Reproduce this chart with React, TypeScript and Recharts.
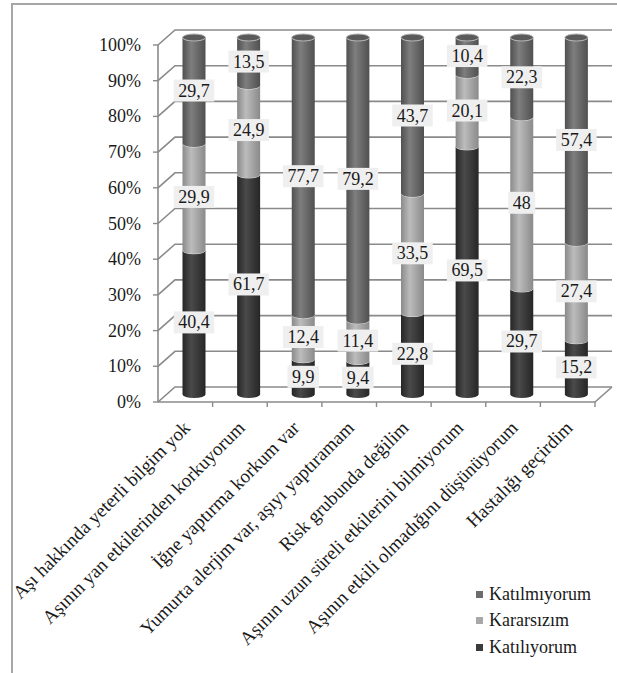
import React from 'react'
import { BarChart, Bar, XAxis, YAxis, CartesianGrid, LabelList, Legend } from 'recharts'

const categories = [
  'Aşı hakkında yeterli bilgim yok',
  'Aşının yan etkilerinden korkuyorum',
  'İğne yaptırma korkum var',
  'Yumurta alerjim var, aşıyı yaptıramam',
  'Risk grubunda değilim',
  'Aşının uzun süreli etkilerini bilmiyorum',
  'Aşının etkili olmadığını düşünüyorum',
  'Hastalığı geçirdim',
]
const katiliyorum = [40.4, 61.7, 9.9, 9.4, 22.8, 69.5, 29.7, 15.2]
const kararsizim = [29.9, 24.9, 12.4, 11.4, 33.5, 20.1, 48, 27.4]
const katilmiyorum = [29.7, 13.5, 77.7, 79.2, 43.7, 10.4, 22.3, 57.4]
const yTicks = [0, 10, 20, 30, 40, 50, 60, 70, 80, 90, 100]

const seriesNames = ['Katılıyorum', 'Kararsızım', 'Katılmıyorum']

const chartData = categories.map((name, i) => ({
  name,
  katiliyorum: katiliyorum[i],
  kararsizim: kararsizim[i],
  katilmiyorum: katilmiyorum[i],
}))

const W = 617
const H = 673
// half of the 3d depth: bars sit in the middle between the front axis and the back wall
const DX = 8.5
const DY = 7.5
const RY = 3.5
const MARGIN = { top: 37.5, right: 13.5, bottom: 78.5, left: 106.5 }
const Y_AXIS_W = 60
const X_AXIS_H = 200
const PLOT_BOTTOM = H - MARGIN.bottom - X_AXIS_H
const FONT = 'Liberation Serif, Times New Roman, Times, DejaVu Serif, serif'
const GRID = '#8a8a8a'

const styles = [
  { id: 'g-katiliyorum', edge: '#262626', mid: '#4a4a4a', cap: '#2e2e2e', legend: '#3b3b3b' },
  { id: 'g-kararsizim', edge: '#8a8a8a', mid: '#bcbcbc', cap: '#9a9a9a', legend: '#a8a8a8' },
  { id: 'g-katilmiyorum', edge: '#505050', mid: '#7e7e7e', cap: '#5a5a5a', legend: '#6c6c6c' },
]

const gridLine = (p: any) => {
  const { x1, y1, x2, key, y, height, width } = p
  const fx = x1 - DX
  const fy = y1 + DY
  const isBottom = Math.abs(y1 - (y + height)) < 1
  const band = width / categories.length
  return (
    <g key={key}>
      <path
        d={`M${fx},${fy} L${x1 + DX},${y1 - DY} L${x2 + DX},${y1 - DY}`}
        stroke={GRID}
        strokeWidth={1.6}
        fill="none"
      />
      <line x1={fx - 5} y1={fy} x2={fx} y2={fy} stroke={GRID} strokeWidth={1.4} />
      {isBottom && (
        <g>
          <path
            d={`M${fx},${fy} L${x2 - DX},${fy} L${x2 + DX},${y1 - DY}`}
            stroke={GRID}
            strokeWidth={1.6}
            fill="none"
          />
          <line x1={fx} y1={fy} x2={fx} y2={y + DY} stroke={GRID} strokeWidth={1.6} />
          {categories.map((_, i) => (
            <line
              key={i}
              x1={fx + band * (i + 1)}
              y1={fy}
              x2={fx + band * (i + 1)}
              y2={fy + 5}
              stroke={GRID}
              strokeWidth={1.4}
            />
          ))}
        </g>
      )}
    </g>
  )
}

const YTick = (p: any) => {
  const { y, payload } = p
  const left = MARGIN.left + Y_AXIS_W - DX
  return (
    <text x={left - 17} y={y + DY + 6} textAnchor="end" fontSize={18} style={{ fontFamily: FONT }} fill="#1a1a1a">
      {Math.round(payload.value * 100)}%
    </text>
  )
}

const XTick = (p: any) => {
  const { x, payload } = p
  const px = x - DX + 6
  const py = PLOT_BOTTOM + DY + 27
  return (
    <text
      x={px}
      y={py}
      transform={`rotate(-45 ${px} ${py})`}
      textAnchor="end"
      fontSize={19}
      style={{ fontFamily: FONT }}
      fill="#1a1a1a"
    >
      {payload.value}
    </text>
  )
}

const cylinder = (s: number, isTop: boolean) => (p: any) => {
  const { x, y, width, height } = p
  if (!height || height <= 0) return <g />
  const rx = width / 2
  const st = styles[s]
  const body = `M${x},${y} A${rx},${RY} 0 0 0 ${x + width},${y} L${x + width},${y + height} A${rx},${RY} 0 0 1 ${x},${y + height} Z`
  return (
    <g>
      <path d={body} fill={`url(#${st.id})`} />
      {isTop ? (
        <ellipse cx={x + rx} cy={y} rx={rx} ry={RY} fill={st.cap} stroke="#b5b5b5" strokeWidth={1} />
      ) : (
        <path d={`M${x},${y} A${rx},${RY} 0 0 0 ${x + width},${y}`} stroke="#e2e2e2" strokeWidth={1} fill="none" />
      )}
    </g>
  )
}

const boxLabel = (values: number[]) => (p: any) => {
  const { x, y, width, height, index } = p
  const v = values[index]
  if (v == null) return null
  const text = String(v).replace('.', ',')
  const digits = text.replace(',', '').length
  const tw = digits * 9 + (text.includes(',') ? 4.5 : 0)
  const bw = tw + 9
  const cx = x + width / 2
  const cy = y + height / 2
  return (
    <g key={`lbl-${index}`}>
      <rect x={cx - bw / 2} y={cy - 11} width={bw} height={22} fill="#efefef" />
      <text x={cx} y={cy + 6} textAnchor="middle" fontSize={18} style={{ fontFamily: FONT }} fill="#1a1a1a">
        {text}
      </text>
    </g>
  )
}

const legendContent = () => (
  <div style={{ fontFamily: FONT, fontSize: 18, color: '#1a1a1a' }}>
    {[2, 1, 0].map((s) => (
      <div key={s} style={{ display: 'flex', alignItems: 'center', height: 26.5 }}>
        <span style={{ width: 7, height: 7, background: styles[s].legend, marginRight: 6, display: 'inline-block' }} />
        <span>{seriesNames[s]}</span>
      </div>
    ))}
  </div>
)

export default function App() {
  return (
    <div style={{ position: 'absolute', left: 0, top: 0, width: W, height: H, background: '#fff' }}>
      <div
        style={{
          position: 'absolute',
          left: 11,
          top: 3,
          width: W,
          height: H,
          borderLeft: '2px solid #a6a6a6',
          borderTop: '2px solid #a6a6a6',
        }}
      />
      <BarChart
        width={W}
        height={H}
        data={chartData}
        margin={MARGIN}
        stackOffset="expand"
        barSize={23}
        style={{ position: 'absolute', left: 0, top: 0 }}
      >
        <defs>
          {styles.map((st) => (
            <linearGradient key={st.id} id={st.id} x1="0" y1="0" x2="1" y2="0">
              <stop offset="0%" stopColor={st.edge} />
              <stop offset="38%" stopColor={st.mid} />
              <stop offset="100%" stopColor={st.edge} />
            </linearGradient>
          ))}
        </defs>
        <CartesianGrid vertical={false} horizontal={gridLine} />
        <XAxis
          dataKey="name"
          interval={0}
          height={X_AXIS_H}
          axisLine={false}
          tickLine={false}
          tick={XTick}
        />
        <YAxis
          width={Y_AXIS_W}
          domain={[0, 1]}
          ticks={yTicks.map((t) => t / 100)}
          axisLine={false}
          tickLine={false}
          tick={YTick}
        />
        <Legend
          layout="vertical"
          align="center"
          verticalAlign="middle"
          wrapperStyle={{ left: 476, top: 581, width: 140 }}
          content={legendContent}
        />
        <Bar dataKey="katiliyorum" name={seriesNames[0]} stackId="a" fill={styles[0].legend} shape={cylinder(0, false)} isAnimationActive={false}>
          <LabelList dataKey="katiliyorum" content={boxLabel(katiliyorum)} />
        </Bar>
        <Bar dataKey="kararsizim" name={seriesNames[1]} stackId="a" fill={styles[1].legend} shape={cylinder(1, false)} isAnimationActive={false}>
          <LabelList dataKey="kararsizim" content={boxLabel(kararsizim)} />
        </Bar>
        <Bar dataKey="katilmiyorum" name={seriesNames[2]} stackId="a" fill={styles[2].legend} shape={cylinder(2, true)} isAnimationActive={false}>
          <LabelList dataKey="katilmiyorum" content={boxLabel(katilmiyorum)} />
        </Bar>
      </BarChart>
    </div>
  )
}
